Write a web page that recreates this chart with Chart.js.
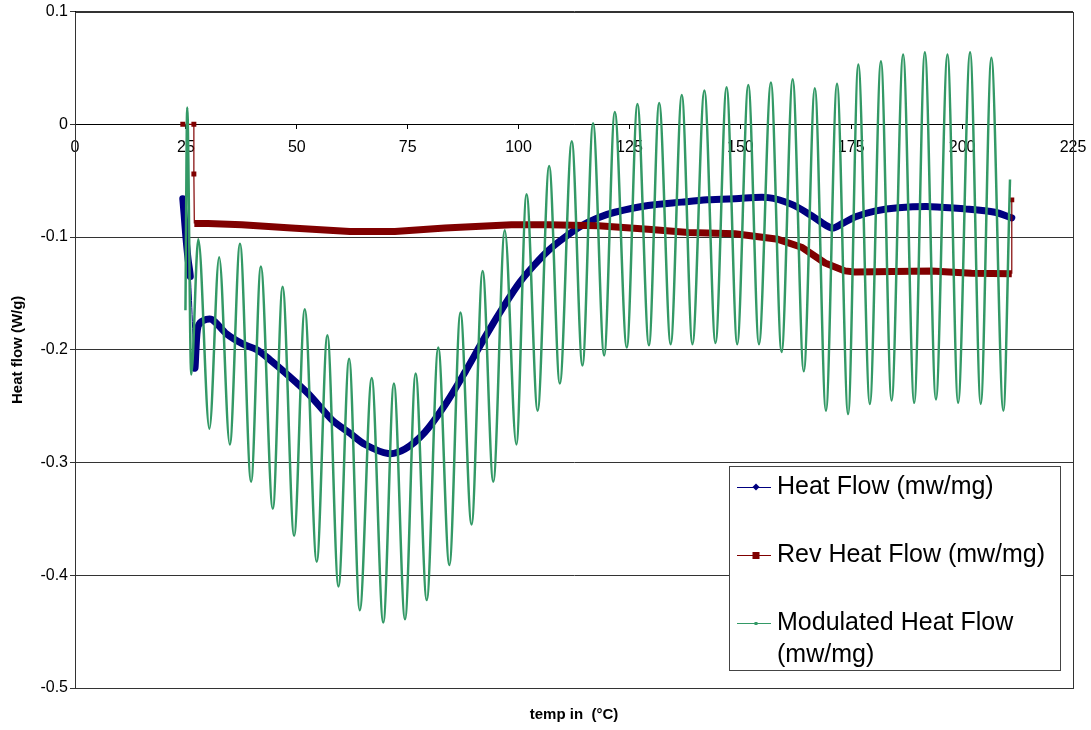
<!DOCTYPE html>
<html>
<head>
<meta charset="utf-8">
<title>Heat flow vs temperature</title>
<script src="https://cdn.jsdelivr.net/npm/chart.js@4.4.1/dist/chart.umd.min.js"></script>
<style>
  html, body { margin: 0; padding: 0; background: #fff; }
  #wrap { position: relative; width: 1091px; height: 730px; }
</style>
</head>
<body>
<div id="wrap"><canvas id="myChart" width="1091" height="730"></canvas></div>
<script>
// Heat Flow (mw/mg)
const heatTemp = [24.3, 24.6, 25.0, 25.5, 26.0, 27.0, 27.6, 28.5, 30.8, 34.2, 37.9, 41.0, 44.0, 47.3,
  52.6, 57.9, 62.0, 65.4, 70.6, 74.4, 78.9, 83.4, 87.9, 92.4, 96.9, 100.3, 103.5, 106.7, 110.5,
  114.2, 117.8, 121.7, 129.2, 136.8, 142.5, 148.8, 156.3, 161.6, 166.1, 170.6, 173.0, 176.0,
  180.3, 185.6, 193.1, 200.6, 207.4, 211.2];
const heatValue = [-0.066, -0.080, -0.100, -0.120, -0.135, -0.216, -0.182, -0.175, -0.173, -0.186,
  -0.195, -0.200, -0.209, -0.220, -0.239, -0.262, -0.274, -0.284, -0.292, -0.288, -0.273, -0.249,
  -0.220, -0.189, -0.160, -0.140, -0.125, -0.112, -0.100, -0.090, -0.083, -0.078, -0.072, -0.069,
  -0.067, -0.066, -0.065, -0.071, -0.081, -0.092, -0.088, -0.082, -0.077, -0.074, -0.073, -0.075,
  -0.078, -0.083];

// Rev Heat Flow (mw/mg)
const revTemp = [24.3, 26.8, 26.8, 26.9, 30.0, 37.6, 48.8, 62.0, 72.1, 83.4, 98.4, 106.7, 118.0,
  129.2, 138.3, 148.8, 158.5, 163.8, 169.1, 173.6, 175.8, 193.1, 202.1, 211.2, 211.2];
const revValue = [0, 0, -0.044, -0.088, -0.088, -0.089, -0.092, -0.095, -0.095, -0.092, -0.089,
  -0.089, -0.090, -0.093, -0.096, -0.097, -0.102, -0.109, -0.123, -0.130, -0.131, -0.130, -0.132,
  -0.1325, -0.067];

// Modulated Heat Flow (mw/mg) - peaks and troughs of each cycle
const modTemp = [24.9, 25.3, 26.2, 27.8, 30.3, 32.5, 34.9, 37.2, 39.7, 41.9, 44.6, 46.8, 49.4,
  51.8, 54.5, 56.9, 59.4, 61.8, 64.2, 66.9, 69.5, 71.9, 74.4, 76.8, 79.3, 81.9, 84.4, 86.9, 89.4,
  91.9, 94.3, 96.9, 99.5, 101.8, 104.3, 106.9, 109.3, 112.0, 114.4, 116.8, 119.3, 121.7, 124.4,
  126.8, 129.4, 131.7, 134.3, 136.8, 139.2, 141.9, 144.4, 146.9, 149.3, 151.8, 154.2, 156.9,
  159.3, 161.8, 164.3, 166.8, 169.3, 171.8, 174.3, 176.6, 179.2, 181.7, 184.1, 186.7, 189.2,
  191.6, 194.1, 196.7, 199.1, 201.8, 204.2, 206.6, 209.3, 210.8];
const modValue = [-0.165, 0.015, -0.222, -0.102, -0.270, -0.118, -0.284, -0.106, -0.317, -0.126,
  -0.341, -0.144, -0.365, -0.164, -0.388, -0.187, -0.410, -0.208, -0.431, -0.225, -0.442, -0.230,
  -0.439, -0.221, -0.422, -0.198, -0.391, -0.167, -0.355, -0.130, -0.317, -0.094, -0.284, -0.062,
  -0.254, -0.037, -0.230, -0.015, -0.214, 0.001, -0.205, 0.011, -0.198, 0.018, -0.196, 0.019,
  -0.195, 0.026, -0.195, 0.030, -0.194, 0.033, -0.195, 0.035, -0.195, 0.037, -0.202, 0.040,
  -0.219, 0.032, -0.254, 0.036, -0.257, 0.053, -0.248, 0.056, -0.245, 0.062, -0.247, 0.064,
  -0.244, 0.062, -0.247, 0.064, -0.248, 0.059, -0.254, -0.049];

const xTicks = [0, 25, 50, 75, 100, 125, 150, 175, 200, 225];
const yTicks = [0.1, 0, -0.1, -0.2, -0.3, -0.4, -0.5];

const FONT = "'Liberation Sans', Arial, sans-serif";

function toPoints(xs, ys) {
  return xs.map((x, i) => ({ x: x, y: ys[i] }));
}

const revLast = revTemp.length - 1;

// box around the plot area (top and right edges)
const plotFrame = {
  id: 'plotFrame',
  afterDraw(chart) {
    const { ctx, chartArea: a } = chart;
    ctx.save();
    ctx.strokeStyle = '#333';
    ctx.lineWidth = 1;
    ctx.strokeRect(Math.round(a.left) + 0.5, Math.round(a.top) + 0.5,
      Math.round(a.right - a.left), Math.round(a.bottom - a.top));
    ctx.restore();
  }
};

// Excel style legend: line with marker, boxed, bottom right inside the plot
const legendBox = {
  id: 'legendBox',
  afterDraw(chart) {
    const { ctx, chartArea: a } = chart;
    const w = 331, h = 204;
    const left = Math.round(a.right) - 13 - w;
    const top = Math.round(a.bottom) - 18 - h;
    ctx.save();
    ctx.fillStyle = '#fff';
    ctx.fillRect(left, top, w, h);
    ctx.strokeStyle = '#444';
    ctx.lineWidth = 1;
    ctx.strokeRect(left + 0.5, top + 0.5, w, h);

    const rows = [
      { lines: ['Heat Flow (mw/mg)'], y: 21 },
      { lines: ['Rev Heat Flow (mw/mg)'], y: 89 },
      { lines: ['Modulated Heat Flow', '(mw/mg)'], y: 157 },
    ];
    ctx.font = '25px ' + FONT;
    ctx.textBaseline = 'middle';
    ctx.textAlign = 'left';
    chart.data.datasets.forEach((ds, i) => {
      const r = rows[i];
      const cy = top + r.y;
      ctx.strokeStyle = ds.borderColor;
      ctx.lineWidth = 1;
      ctx.beginPath();
      ctx.moveTo(left + 8, cy + 0.5);
      ctx.lineTo(left + 42, cy + 0.5);
      ctx.stroke();
      ctx.fillStyle = ds.borderColor;
      const mx = left + 27;
      if (ds.legendMarker === 'diamond') {
        ctx.beginPath();
        ctx.moveTo(mx, cy - 3.5);
        ctx.lineTo(mx + 3.5, cy);
        ctx.lineTo(mx, cy + 3.5);
        ctx.lineTo(mx - 3.5, cy);
        ctx.closePath();
        ctx.fill();
      } else if (ds.legendMarker === 'square') {
        ctx.fillRect(mx - 3.5, cy - 3, 7, 7);
      } else {
        ctx.fillRect(mx - 1.5, cy - 1, 3, 3);
      }
      ctx.fillStyle = '#000';
      r.lines.forEach((t, j) => ctx.fillText(t, left + 48, cy + j * 32));
    });
    ctx.restore();
  }
};

const ctx = document.getElementById('myChart');

new Chart(ctx, {
  type: 'line',
  data: {
    datasets: [
      {
        label: 'Heat Flow (mw/mg)',
        data: toPoints(heatTemp, heatValue),
        borderColor: '#000080',
        backgroundColor: '#000080',
        legendMarker: 'diamond',
        borderWidth: 7,
        borderJoinStyle: 'round',
        borderCapStyle: 'round',
        pointRadius: 0,
        tension: 0.3,
        order: 2,
        segment: {
          // the jump near 27 °C is only a thin connector
          borderWidth: (c) => Math.abs(c.p1.parsed.y - c.p0.parsed.y) > 0.05 ? 1 : 7,
        },
      },
      {
        label: 'Rev Heat Flow (mw/mg)',
        data: toPoints(revTemp, revValue),
        borderColor: '#800000',
        backgroundColor: '#800000',
        legendMarker: 'square',
        borderWidth: 7,
        borderJoinStyle: 'round',
        pointStyle: 'rect',
        pointRadius: (c) => (c.dataIndex < 3 || c.dataIndex === revLast) ? 3.5 : 0,
        pointBorderWidth: 0,
        tension: 0,
        order: 1,
        segment: {
          borderWidth: (c) => (c.p0DataIndex < 3 || c.p1DataIndex === revLast) ? 1.2 : 7,
        },
      },
      {
        label: 'Modulated Heat Flow (mw/mg)',
        data: toPoints(modTemp, modValue),
        borderColor: '#339966',
        backgroundColor: '#339966',
        legendMarker: 'dash',
        borderWidth: 2.5,
        pointRadius: 0,
        cubicInterpolationMode: 'monotone',
        order: 0,
      },
    ],
  },
  options: {
    animation: false,
    responsive: false,
    events: [],
    layout: { padding: { left: 0, right: 18, top: 10, bottom: 0 } },
    plugins: {
      legend: { display: false },
      tooltip: { enabled: false },
    },
    scales: {
      x: {
        type: 'linear',
        position: { y: 0 },
        min: 0,
        max: 225,
        afterFit: (s) => { s.height = 0; s.paddingLeft = 0; s.paddingRight = 0; },
        afterBuildTicks: (s) => { s.ticks = xTicks.map((v) => ({ value: v })); },
        grid: { drawOnChartArea: false, drawTicks: true, tickLength: 4, color: '#000' },
        border: { display: true, color: '#000', width: 1 },
        ticks: { font: { family: FONT, size: 16 }, color: '#000', padding: 10, maxRotation: 0 },
      },
      xTitle: {
        type: 'linear',
        axis: 'x',
        position: 'bottom',
        min: 0,
        max: 225,
        afterFit: (s) => { s.height = 42; s.paddingLeft = 0; s.paddingRight = 0; },
        grid: { display: false, drawTicks: false },
        border: { display: false },
        ticks: { display: false },
        title: {
          display: true,
          text: 'temp in  (°C)',
          color: '#000',
          font: { family: FONT, size: 15, weight: 'bold' },
          padding: { top: 0, bottom: 6 },
        },
      },
      y: {
        type: 'linear',
        min: -0.5,
        max: 0.1,
        afterFit: (s) => { s.width = 75; },
        afterBuildTicks: (s) => { s.ticks = yTicks.map((v) => ({ value: v })); },
        grid: { color: '#333', lineWidth: 1, drawTicks: true, tickLength: 5 },
        border: { display: true, color: '#000', width: 1 },
        ticks: {
          font: { family: FONT, size: 16 },
          color: '#000',
          padding: 2,
          callback: (v) => (Math.abs(v) < 1e-9 ? '0' : v.toFixed(1)),
        },
        title: {
          display: true,
          text: 'Heat flow (W/g)',
          color: '#000',
          font: { family: FONT, size: 15, weight: 'bold' },
          padding: { top: 9, bottom: 0 },
        },
      },
    },
  },
  plugins: [plotFrame, legendBox],
});
</script>
</body>
</html>
